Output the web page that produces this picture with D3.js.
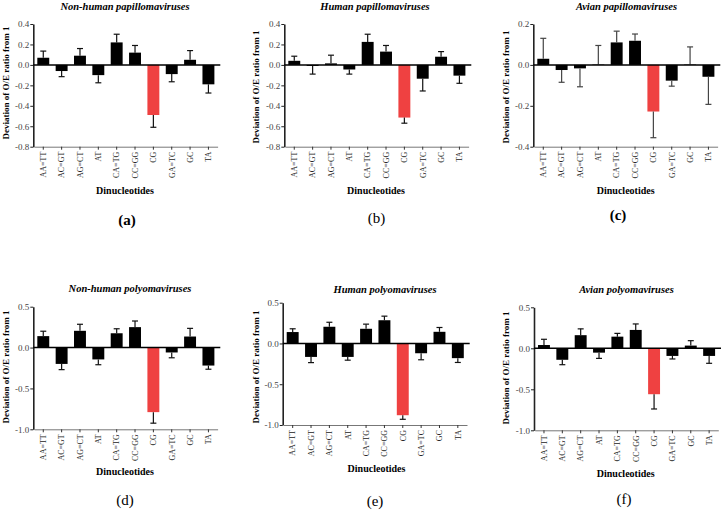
<!DOCTYPE html>
<html><head><meta charset="utf-8">
<script src="https://cdn.jsdelivr.net/npm/d3@7"></script>
<style>
html,body{margin:0;padding:0;background:#fff;}
svg{display:block;}
svg text{font-family:"Liberation Serif","Times New Roman",serif;}
</style></head>
<body>
<svg id="chart" width="721" height="512"></svg>
<script>
// ---------- data ----------
const categories = ["AA=TT","AC=GT","AG=CT","AT","CA=TG","CC=GG","CG","GA=TC","GC","TA"];
const highlightCategory = "CG";

const titles = ["Non-human papillomaviruses","Human papillomaviruses","Avian papillomaviruses",
                "Non-human polyomaviruses","Human polyomaviruses","Avian polyomaviruses"];
const panelLabels = ["(a)","(b)","(c)","(d)","(e)","(f)"];

const nonHumanPapilloma    = [0.07,-0.06,0.09,-0.10,0.22,0.12,-0.49,-0.09,0.05,-0.19];
const nonHumanPapillomaErr = [0.065,0.055,0.07,0.075,0.08,0.07,0.12,0.075,0.09,0.085];
const humanPapilloma       = [0.04,-0.01,0.015,-0.045,0.225,0.13,-0.515,-0.135,0.08,-0.105];
const humanPapillomaErr    = [0.045,0.08,0.08,0.045,0.075,0.06,0.055,0.12,0.05,0.075];
const avianPapilloma       = [0.03,-0.025,-0.017,0.002,0.11,0.118,-0.228,-0.077,0.002,-0.058];
const avianPapillomaErr    = [0.1,0.06,0.09,0.093,0.055,0.033,0.128,0.027,0.086,0.135];
const nonHumanPolyoma      = [0.14,-0.2,0.205,-0.145,0.175,0.25,-0.79,-0.06,0.135,-0.22];
const nonHumanPolyomaErr   = [0.06,0.07,0.08,0.065,0.055,0.075,0.135,0.065,0.1,0.045];
const humanPolyoma         = [0.14,-0.165,0.205,-0.165,0.18,0.285,-0.88,-0.12,0.143,-0.18];
const humanPolyomaErr      = [0.04,0.07,0.055,0.04,0.057,0.05,0.05,0.08,0.053,0.053];
const avianPolyoma         = [0.04,-0.14,0.16,-0.053,0.142,0.224,-0.56,-0.093,0.033,-0.093];
const avianPolyomaErr      = [0.07,0.06,0.077,0.07,0.04,0.073,0.18,0.037,0.06,0.09];

const papillomaTicks      = [-0.8,-0.6,-0.4,-0.2,0.0,0.2,0.4];
const avianPapillomaTicks = [-0.4,-0.2,0.0,0.2];
const polyomaTicks        = [-1.0,-0.5,0.0,0.5];

const yAxisTitle = "Deviation of O/E ratio from 1";
const xAxisTitle = "Dinucleotides";

// ---------- layout (positions only) ----------
const layout = [
  {ax:33.3, yTop:24,    yBot:146.7, titleX:125,   titleY:9.5,  xtX:125,   xtY:193.5, lblX:127,  lblY:225,  ytX:6,   ytY:83,  lblBold:true},
  {ax:284.3,yTop:24,    yBot:146.7, titleX:375,   titleY:9.5,  xtX:376,   xtY:193.5, lblX:376.5,lblY:223,  ytX:256, ytY:87,  lblBold:false},
  {ax:533.3,yTop:24,    yBot:146.7, titleX:626.5, titleY:9.5,  xtX:625.7, xtY:193.5, lblX:618,  lblY:220,  ytX:506, ytY:87,  lblBold:true},
  {ax:33.3, yTop:306.7, yBot:429.3, titleX:130,   titleY:291.5,xtX:125,   xtY:475,   lblX:125,  lblY:505,  ytX:6,   ytY:367, lblBold:false},
  {ax:282.7,yTop:302.7, yBot:425,   titleX:385,   titleY:292.5,xtX:376.5, xtY:471.5, lblX:375,  lblY:505.5,ytX:256, ytY:367, lblBold:false},
  {ax:534,  yTop:307.3, yBot:430.3, titleX:626.5, titleY:292.5,xtX:625.7, xtY:476.5, lblX:624,  lblY:504,  ytX:506, ytY:368, lblBold:false}
];

const series = [
  {values:nonHumanPapilloma, errors:nonHumanPapillomaErr, ticks:papillomaTicks},
  {values:humanPapilloma,    errors:humanPapillomaErr,    ticks:papillomaTicks},
  {values:avianPapilloma,    errors:avianPapillomaErr,    ticks:avianPapillomaTicks},
  {values:nonHumanPolyoma,   errors:nonHumanPolyomaErr,   ticks:polyomaTicks},
  {values:humanPolyoma,      errors:humanPolyomaErr,      ticks:polyomaTicks},
  {values:avianPolyoma,      errors:avianPolyomaErr,      ticks:polyomaTicks}
];

const svg = d3.select("#chart");
const fmt = v => (Math.abs(v) < 1e-9 ? 0 : v).toFixed(1);
const SERIF = "Liberation Serif";

series.forEach((s, i) => {
  const L = layout[i];
  const g = svg.append("g");
  const x = d3.scaleBand().domain(categories)
      .range([L.ax + 0.8, L.ax + 184.3]).paddingInner(0.35).paddingOuter(0.175);
  const y = d3.scaleLinear().domain([d3.min(s.ticks), d3.max(s.ticks)]).range([L.yBot, L.yTop]);

  // bottom axis with rotated category labels
  const xa = g.append("g").attr("transform", `translate(0,${L.yBot})`)
    .call(d3.axisBottom(x).tickSizeOuter(0).tickSizeInner(3));
  xa.attr("font-family", SERIF);
  xa.select(".domain").attr("stroke", "#777").attr("stroke-width", 1);
  xa.selectAll(".tick line").attr("stroke", "#333").attr("stroke-width", 1);
  xa.selectAll(".tick text")
    .attr("transform", "rotate(-90)")
    .attr("x", -5).attr("y", 0).attr("dy", "0.35em")
    .style("text-anchor", "end")
    .attr("font-size", "8px").attr("fill", "#222");

  // left axis
  const ya = g.append("g").attr("transform", `translate(${L.ax},0)`)
    .call(d3.axisLeft(y).tickValues(s.ticks).tickFormat(fmt).tickSizeOuter(0).tickSizeInner(3));
  ya.attr("font-family", SERIF);
  ya.select(".domain").attr("stroke", "#222").attr("stroke-width", 1.6);
  ya.selectAll(".tick line").attr("stroke", "#222").attr("stroke-width", 1);
  ya.selectAll(".tick text").attr("x", -4)
    .attr("font-size", "9px").attr("fill", "#444");

  // bars
  const data = categories.map((c, k) => ({c, v: s.values[k], e: s.errors[k]}));
  g.selectAll("rect.bar").data(data).join("rect").attr("class", "bar")
    .attr("x", d => x(d.c))
    .attr("width", x.bandwidth())
    .attr("y", d => Math.min(y(d.v), y(0)))
    .attr("height", d => Math.abs(y(d.v) - y(0)))
    .attr("fill", d => d.c === highlightCategory ? "#ef4141" : "#000");

  // error bars (one-sided, away from zero)
  const eg = g.selectAll("g.err").data(data).join("g").attr("class", "err")
    .attr("stroke", i === 2 ? "#444" : "#111").attr("stroke-width", 1.2);
  const cx = d => x(d.c) + x.bandwidth() / 2;
  const endV = d => d.v + (d.v >= 0 ? 1 : -1) * d.e;
  eg.append("line").attr("x1", cx).attr("x2", cx)
    .attr("y1", d => y(d.v)).attr("y2", d => y(endV(d)));
  eg.append("line").attr("x1", d => cx(d) - 3).attr("x2", d => cx(d) + 3)
    .attr("y1", d => y(endV(d))).attr("y2", d => y(endV(d)));

  // zero line
  g.append("line").attr("x1", L.ax).attr("x2", L.ax + 187)
    .attr("y1", y(0)).attr("y2", y(0)).attr("stroke", "#000").attr("stroke-width", 1.5);

  // titles
  g.append("text").attr("x", L.titleX).attr("y", L.titleY).attr("text-anchor", "middle")
    .attr("font-family", SERIF).attr("font-style", "italic").attr("font-weight", "bold")
    .attr("font-size", "10.5px").text(titles[i]);
  g.append("text").attr("x", L.xtX).attr("y", L.xtY).attr("text-anchor", "middle")
    .attr("font-family", SERIF).attr("font-weight", "bold").attr("font-size", "10px")
    .text(xAxisTitle);
  g.append("text").attr("transform", `translate(${L.ytX},${L.ytY}) rotate(-90)`)
    .attr("text-anchor", "middle").attr("dy", "0.35em")
    .attr("font-family", SERIF).attr("font-weight", "bold").attr("font-size", "9px")
    .text(yAxisTitle);
  g.append("text").attr("x", L.lblX).attr("y", L.lblY).attr("text-anchor", "middle")
    .attr("font-family", SERIF).attr("font-weight", L.lblBold ? "bold" : "normal")
    .attr("font-size", "15px").text(panelLabels[i]);
});
</script>
</body></html>
